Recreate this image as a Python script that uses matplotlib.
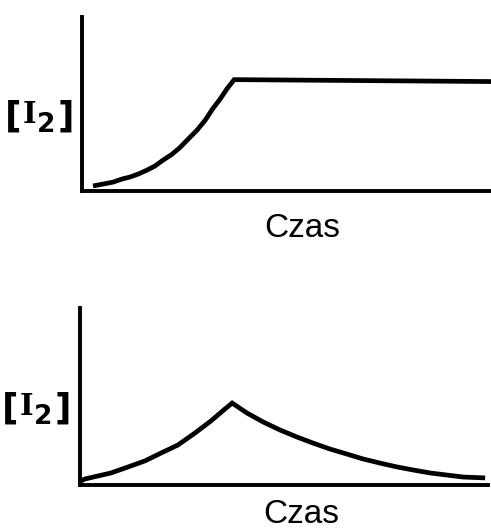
import matplotlib.pyplot as plt

# Upper panel: I2 concentration rises, then stays constant
czas_a = [0.27, 0.76, 0.98, 1.17, 1.37, 1.59, 1.78, 1.98, 2.20, 2.40, 2.59,
          2.81, 3.01, 3.20, 3.37, 3.55, 3.72, 10.0]
i2_a = [0.29, 0.51, 0.69, 0.80, 0.97, 1.20, 1.43, 1.77, 2.11, 2.51, 2.97,
        3.49, 4.06, 4.74, 5.26, 5.89, 6.40, 6.29]

# Lower panel: I2 concentration rises to a peak, then decays
czas_b = [0.02, 0.12, 0.44, 0.76, 1.18, 1.59, 1.99, 2.40, 2.82, 3.21, 3.55, 3.73,
          4.09, 4.49, 4.90, 5.32, 5.71, 6.13, 6.54, 6.94, 7.35, 7.77, 8.16,
          8.58, 9.00, 9.39, 9.93]
i2_b = [0.22, 0.34, 0.51, 0.68, 1.02, 1.36, 1.81, 2.26, 2.94, 3.62, 4.29, 4.63,
        4.07, 3.56, 3.11, 2.71, 2.37, 2.03, 1.75, 1.47, 1.24, 1.02, 0.85,
        0.68, 0.56, 0.45, 0.40]

x_label = 'Czas'

W, H = 491, 529
fig = plt.figure(figsize=(W / 100, H / 100), dpi=100)
fig.patch.set_facecolor('white')


def px(x, y):
    # pixel position (from top-left) -> figure fraction
    return x / W, 1 - y / H


def make_axes(left, right, bottom, top):
    ax = fig.add_axes([left / W, 1 - bottom / H, (right - left) / W, (bottom - top) / H])
    ax.set_xlim(0, 10)
    ax.set_ylim(0, 10)
    for side in ['top', 'right']:
        ax.spines[side].set_visible(False)
    for side in ['left', 'bottom']:
        ax.spines[side].set_linewidth(2.8)
        ax.spines[side].set_color('black')
        ax.spines[side].set_capstyle('projecting')
    ax.set_xticks([])
    ax.set_yticks([])
    ax.patch.set_alpha(0)
    return ax


def conc_label(x0, y0):
    # "[I2]" built from pieces so the subscript stays large; (x0, y0) = baseline of "I"
    bold = dict(fontweight='bold', ha='center', va='baseline')
    fig.text(*px(x0 - 14.5, y0 + 4), '[', fontsize=26, family='DejaVu Sans', **bold)
    fig.text(*px(x0 + 1.5, y0), 'I', fontsize=21, family='DejaVu Serif', **bold)
    fig.text(*px(x0 + 18.5, y0 + 9), '2', fontsize=19, family='DejaVu Sans', **bold)
    fig.text(*px(x0 + 37.5, y0 + 4), ']', fontsize=26, family='DejaVu Sans', **bold)


ax1 = make_axes(82, 491, 191, 17)
ax1.plot(czas_a, i2_a, color='black', lw=3.4, solid_joinstyle='miter',
         solid_capstyle='butt', clip_on=False)

ax2 = make_axes(80, 488, 485, 308)
ax2.plot(czas_b, i2_b, color='black', lw=3.4, solid_joinstyle='miter',
         solid_capstyle='butt', clip_on=False)

conc_label(28, 123)
conc_label(25, 415)

fig.text(*px(302, 237), x_label, fontsize=24, family='Liberation Sans',
         ha='center', va='baseline')
fig.text(*px(301, 523), x_label, fontsize=24, family='Liberation Sans',
         ha='center', va='baseline')

fig.savefig('out.png', dpi=100)
